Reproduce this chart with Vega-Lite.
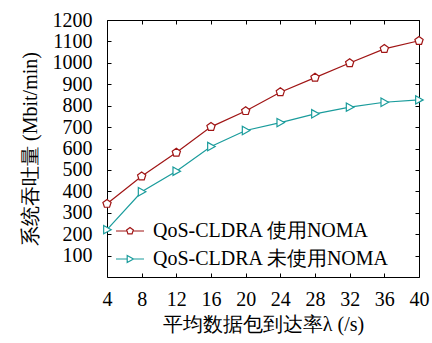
{
  "$schema": "https://vega.github.io/schema/vega-lite/v6.json",
  "width": 312,
  "height": 257,
  "autosize": "none",
  "padding": {"left": 107, "top": 20, "right": 13, "bottom": 66},
  "background": "white",
  "config": {
    "font": "Liberation Serif",
    "view": {"stroke": "black", "strokeWidth": 1},
    "axis": {
      "grid": false,
      "domain": false,
      "tickColor": "black",
      "tickSize": -4,
      "tickWidth": 1,
      "labelFont": "Liberation Serif",
      "labelFontSize": 20,
      "labelColor": "black",
      "labelOverlap": false,
      "labelFlush": false,
      "format": "d",
      "titleFont": "Liberation Serif",
      "titleFontSize": 20,
      "titleFontWeight": "normal",
      "titleColor": "black"
    },
    "legend": {
      "labelFont": "Liberation Serif",
      "labelFontSize": 20,
      "labelColor": "black",
      "labelLimit": 400
    }
  },
  "data": {
    "values": [
      {"x": 4, "y": 342, "s": "QoS-CLDRA 使用NOMA"},
      {"x": 8, "y": 470, "s": "QoS-CLDRA 使用NOMA"},
      {"x": 12, "y": 581, "s": "QoS-CLDRA 使用NOMA"},
      {"x": 16, "y": 701, "s": "QoS-CLDRA 使用NOMA"},
      {"x": 20, "y": 775, "s": "QoS-CLDRA 使用NOMA"},
      {"x": 24, "y": 863, "s": "QoS-CLDRA 使用NOMA"},
      {"x": 28, "y": 931, "s": "QoS-CLDRA 使用NOMA"},
      {"x": 32, "y": 999, "s": "QoS-CLDRA 使用NOMA"},
      {"x": 36, "y": 1065, "s": "QoS-CLDRA 使用NOMA"},
      {"x": 40, "y": 1103, "s": "QoS-CLDRA 使用NOMA"},
      {"x": 4, "y": 221, "s": "QoS-CLDRA 未使用NOMA"},
      {"x": 8, "y": 398, "s": "QoS-CLDRA 未使用NOMA"},
      {"x": 12, "y": 494, "s": "QoS-CLDRA 未使用NOMA"},
      {"x": 16, "y": 609, "s": "QoS-CLDRA 未使用NOMA"},
      {"x": 20, "y": 684, "s": "QoS-CLDRA 未使用NOMA"},
      {"x": 24, "y": 721, "s": "QoS-CLDRA 未使用NOMA"},
      {"x": 28, "y": 762, "s": "QoS-CLDRA 未使用NOMA"},
      {"x": 32, "y": 793, "s": "QoS-CLDRA 未使用NOMA"},
      {"x": 36, "y": 816, "s": "QoS-CLDRA 未使用NOMA"},
      {"x": 40, "y": 827, "s": "QoS-CLDRA 未使用NOMA"}
    ]
  },
  "resolve": {"axis": {"x": "independent", "y": "independent"}},
  "layer": [
    {
      "mark": {"type": "line", "strokeWidth": 1.2},
      "encoding": {
        "x": {
          "field": "x", "type": "quantitative",
          "scale": {"domain": [4, 40], "nice": false, "zero": false},
          "axis": {"values": [4, 8, 12, 16, 20, 24, 28, 32, 36, 40], "labelPadding": 16, "title": "平均数据包到达率λ (/s)", "titlePadding": 5}
        },
        "y": {
          "field": "y", "type": "quantitative",
          "scale": {"domain": [0, 1200], "nice": false},
          "axis": {"values": [100, 200, 300, 400, 500, 600, 700, 800, 900, 1000, 1100, 1200], "labelPadding": 19, "title": "系统吞吐量 (Mbit/min)", "titlePadding": 12}
        },
        "color": {
          "field": "s", "type": "nominal",
          "scale": {"domain": ["QoS-CLDRA 使用NOMA", "QoS-CLDRA 未使用NOMA"], "range": ["#a01515", "#1a9c9c"]},
          "legend": {
            "title": null,
            "orient": "none",
            "legendX": 13,
            "legendY": 201,
            "padding": 0,
            "symbolSize": 49,
            "symbolStrokeWidth": 1.2,
            "labelOffset": 13,
            "rowPadding": 8,
            "encode": {
              "symbols": {
                "update": {
                  "shape": {"signal": "datum.value === 'QoS-CLDRA 使用NOMA' ? 'M-4,0H-0.85M0.85,0H4M0,-1L0.951,-0.309L0.588,0.809L-0.588,0.809L-0.951,-0.309Z' : 'M-4,0H-0.8M1,0H4M-0.8,-1L1,0L-0.8,1Z'"},
                  "fill": {"value": "transparent"}
                }
              }
            }
          }
        }
      }
    },
    {
      "transform": [{"filter": "datum.s === 'QoS-CLDRA 使用NOMA'"}],
      "mark": {"type": "point", "filled": false, "opacity": 1, "strokeWidth": 1.2, "size": 75, "fill": "white",
        "shape": "M0,-1L0.951,-0.309L0.588,0.809L-0.588,0.809L-0.951,-0.309Z"},
      "encoding": {
        "x": {"field": "x", "type": "quantitative", "axis": {"orient": "top", "labels": false, "title": null, "values": [4, 8, 12, 16, 20, 24, 28, 32, 36, 40]}},
        "y": {"field": "y", "type": "quantitative", "axis": {"orient": "right", "labels": false, "title": null, "values": [100, 200, 300, 400, 500, 600, 700, 800, 900, 1000, 1100, 1200]}},
        "color": {"field": "s", "type": "nominal"}
      }
    },
    {
      "transform": [{"filter": "datum.s === 'QoS-CLDRA 未使用NOMA'"}],
      "mark": {"type": "point", "filled": false, "opacity": 1, "strokeWidth": 1.2, "size": 70, "fill": "white",
        "shape": "M-0.8,-1L1,0L-0.8,1Z"},
      "encoding": {
        "x": {"field": "x", "type": "quantitative", "axis": null},
        "y": {"field": "y", "type": "quantitative", "axis": null},
        "color": {"field": "s", "type": "nominal"}
      }
    }
  ]
}
